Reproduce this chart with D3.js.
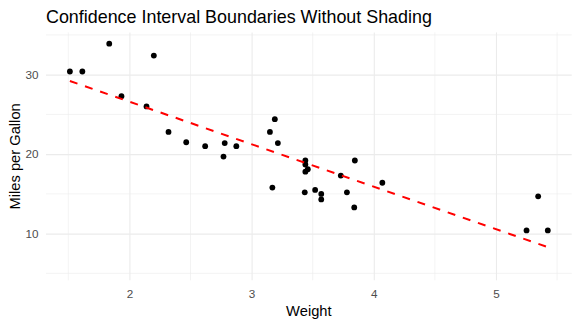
<!DOCTYPE html>
<html>
<head>
<meta charset="utf-8">
<script src="https://cdn.jsdelivr.net/npm/d3@7"></script>
<style>
  body { margin: 0; background: #fff; }
  svg { display: block; font-family: "Liberation Sans", Arial, sans-serif; }
</style>
</head>
<body>
<div id="chart"></div>
<script>
// mtcars: weight (1000 lbs) and miles per gallon
const weight = [2.620, 2.875, 2.320, 3.215, 3.440, 3.460, 3.570, 3.190, 3.150, 3.440, 3.440,
    4.070, 3.730, 3.780, 5.250, 5.424, 5.345, 2.200, 1.615, 1.835, 2.465, 3.520, 3.435,
    3.840, 3.845, 1.935, 2.140, 1.513, 3.170, 2.770, 3.570, 2.780];
const mpg = [21.0, 21.0, 22.8, 21.4, 18.7, 18.1, 14.3, 24.4, 22.8, 19.2, 17.8,
    16.4, 17.3, 15.2, 10.4, 10.4, 14.7, 32.4, 30.4, 33.9, 21.5, 15.5, 15.2,
    13.3, 19.2, 27.3, 26.0, 30.4, 15.8, 19.7, 15.0, 21.4];
const xTicks = [2, 3, 4, 5];
const xMinor = [1.5, 2.5, 3.5, 4.5, 5.5];
const yTicks = [10, 20, 30];
const yMinor = [5, 15, 25, 35];

const width = 580;
const height = 325;
const margin = { top: 32.4, right: 8.3, bottom: 44.7, left: 46 };

const points = weight.map((w, i) => ({ w: w, mpg: mpg[i] }));

// least squares fit, like geom_smooth(method = "lm")
const n = points.length;
const mx = d3.mean(weight);
const my = d3.mean(mpg);
const sxx = d3.sum(weight, w => (w - mx) * (w - mx));
const sxy = d3.sum(points, d => (d.w - mx) * (d.mpg - my));
const slope = sxy / sxx;
const intercept = my - slope * mx;
const xExt = d3.extent(weight);
const fitLine = xExt.map(w => ({ w: w, mpg: intercept + slope * w }));

// the (unshaded) confidence band still sets the y range
const sigma = Math.sqrt(d3.sum(points, d => Math.pow(d.mpg - intercept - slope * d.w, 2)) / (n - 2));
const tcrit = 2.042;
const bandLow = d3.min(weight, w => intercept + slope * w - tcrit * sigma * Math.sqrt(1 / n + (w - mx) * (w - mx) / sxx));
const yLo = Math.min(bandLow, d3.min(mpg));
const yHi = d3.max(mpg);

const xPad = (xExt[1] - xExt[0]) * 0.05;
const yPad = (yHi - yLo) * 0.05;

const svg = d3.select('#chart')
    .append('svg')
    .attr('width', width)
    .attr('height', height);

const x = d3.scaleLinear()
    .domain([xExt[0] - xPad, xExt[1] + xPad])
    .range([margin.left, width - margin.right]);

const y = d3.scaleLinear()
    .domain([yLo - yPad, yHi + yPad])
    .range([height - margin.bottom, margin.top]);

// grid
const grid = svg.append('g');
grid.selectAll('line.xminor')
    .data(xMinor)
    .join('line')
    .attr('x1', d => x(d)).attr('x2', d => x(d))
    .attr('y1', margin.top).attr('y2', height - margin.bottom)
    .attr('stroke', '#ebebeb').attr('stroke-width', 0.6);
grid.selectAll('line.yminor')
    .data(yMinor)
    .join('line')
    .attr('x1', margin.left).attr('x2', width - margin.right)
    .attr('y1', d => y(d)).attr('y2', d => y(d))
    .attr('stroke', '#ebebeb').attr('stroke-width', 0.6);

svg.append('g')
    .attr('transform', `translate(0,${height - margin.bottom})`)
    .call(d3.axisBottom(x).tickValues(xTicks).tickFormat(d3.format('d'))
        .tickSize(-(height - margin.top - margin.bottom)).tickPadding(9))
    .call(g => g.select('.domain').remove())
    .call(g => g.selectAll('.tick line').attr('stroke', '#ebebeb').attr('stroke-width', 1.1))
    .call(g => g.selectAll('.tick text').attr('fill', '#4d4d4d').attr('font-size', '11.7px')
        .attr('font-family', '"Liberation Sans", Arial, sans-serif'));

svg.append('g')
    .attr('transform', `translate(${margin.left},0)`)
    .call(d3.axisLeft(y).tickValues(yTicks).tickFormat(d3.format('d'))
        .tickSize(-(width - margin.left - margin.right)).tickPadding(7.5))
    .call(g => g.select('.domain').remove())
    .call(g => g.selectAll('.tick line').attr('stroke', '#ebebeb').attr('stroke-width', 1.1))
    .call(g => g.selectAll('.tick text').attr('fill', '#4d4d4d').attr('font-size', '11.7px')
        .attr('font-family', '"Liberation Sans", Arial, sans-serif'));

// points
svg.selectAll('circle')
    .data(points)
    .join('circle')
    .attr('cx', d => x(d.w))
    .attr('cy', d => y(d.mpg))
    .attr('r', 2.9)
    .attr('fill', '#000');

// fitted line
svg.append('path')
    .datum(fitLine)
    .attr('fill', 'none')
    .attr('stroke', '#ff0000')
    .attr('stroke-width', 2)
    .attr('stroke-dasharray', '8,8')
    .attr('d', d3.line().x(d => x(d.w)).y(d => y(d.mpg)));

// titles
svg.append('text')
    .attr('x', margin.left)
    .attr('y', 22.5)
    .attr('font-size', '17.9px')
    .attr('fill', '#000')
    .text('Confidence Interval Boundaries Without Shading');

svg.append('text')
    .attr('x', (margin.left + width - margin.right) / 2)
    .attr('y', 315.5)
    .attr('text-anchor', 'middle')
    .attr('font-size', '14.7px')
    .text('Weight');

svg.append('text')
    .attr('transform', 'rotate(-90)')
    .attr('x', -(margin.top + height - margin.bottom) / 2)
    .attr('y', 20)
    .attr('text-anchor', 'middle')
    .attr('font-size', '14.7px')
    .text('Miles per Gallon');
</script>
</body>
</html>
